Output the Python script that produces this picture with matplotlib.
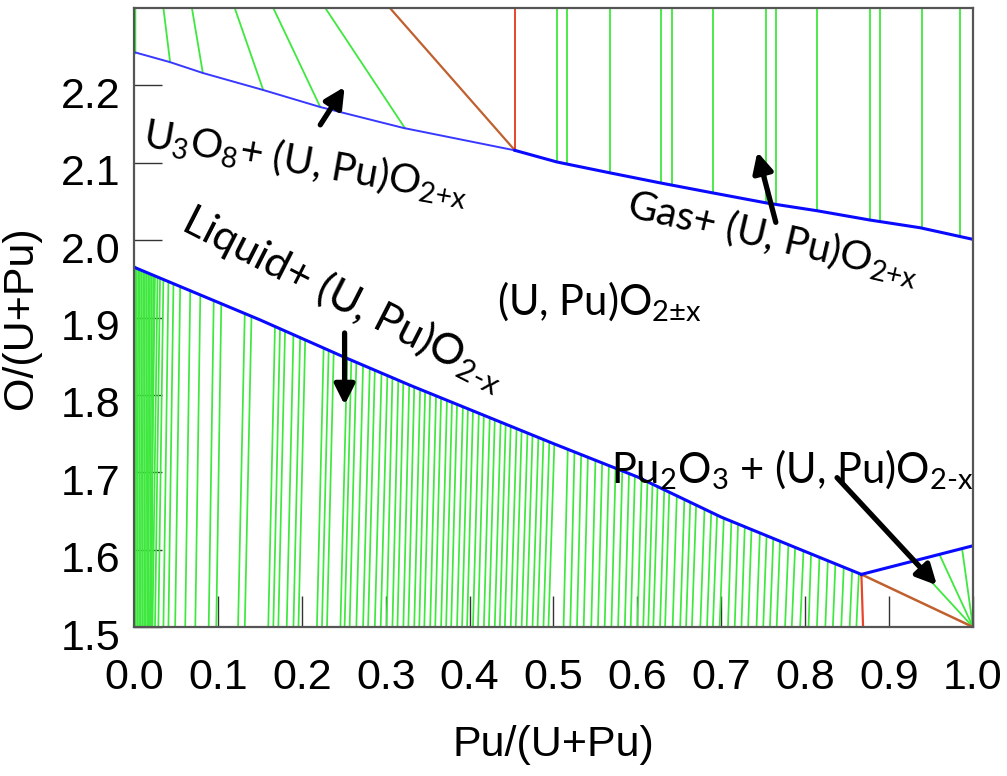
import matplotlib
matplotlib.use("Agg")
import matplotlib.pyplot as plt
import matplotlib.transforms as mtransforms
import numpy as np

plt.rcParams['mathtext.fontset'] = 'custom'
plt.rcParams['mathtext.rm'] = 'Lato'
plt.rcParams['mathtext.it'] = 'Lato:italic'
plt.rcParams['mathtext.bf'] = 'Lato:bold'

# phase boundaries, Pu/(U+Pu) vs O/(U+Pu)
u3o8_x = [0.0, 0.043, 0.082, 0.154, 0.222, 0.321, 0.454]
u3o8_y = [2.243, 2.230, 2.216, 2.194, 2.172, 2.145, 2.116]
gas_x = [0.454, 0.504, 0.567, 0.627, 0.690, 0.754, 0.814, 0.877, 0.937, 1.0]
gas_y = [2.116, 2.101, 2.087, 2.074, 2.061, 2.048, 2.038, 2.026, 2.016, 2.001]
liq_x = [0.0, 0.15, 0.25, 0.33, 0.5, 0.6, 0.7, 0.79, 0.867]
liq_y = [1.965, 1.897, 1.849, 1.812, 1.737, 1.694, 1.642, 1.602, 1.568]
pu2o3_x = [0.867, 1.0]
pu2o3_y = [1.568, 1.605]

# tie lines U3O8 + MOX: end on boundary -> end at top edge
u3o8_tie_bot = [0.0, 0.043, 0.082, 0.154, 0.222, 0.323]
u3o8_tie_top = [0.0, 0.035, 0.069, 0.120, 0.166, 0.228]

# tie lines gas + MOX (vertical)
gas_tie = [0.504, 0.516, 0.567, 0.628, 0.641, 0.690, 0.753, 0.765, 0.814,
           0.877, 0.889, 0.939, 0.984, 1.0]

# tie lines liquid + MOX: boundary end / end at O/M = 1.5
liq_tie_top = [0.001, 0.003, 0.005, 0.007, 0.009, 0.011, 0.013, 0.015, 0.017,
               0.019, 0.021, 0.023,
               0.025, 0.028, 0.031, 0.035, 0.041, 0.047, 0.055, 0.067, 0.079, 0.095, 0.104,
               0.132, 0.140, 0.168, 0.174, 0.180, 0.190, 0.198, 0.204,
               0.226, 0.232, 0.238, 0.254, 0.259, 0.265, 0.273, 0.281, 0.287, 0.295, 0.302,
               0.308, 0.315, 0.321, 0.328, 0.334, 0.341, 0.347, 0.353, 0.360, 0.366,
               0.373, 0.379, 0.385, 0.392, 0.398, 0.404, 0.411, 0.417, 0.424, 0.430,
               0.437, 0.443, 0.449, 0.456, 0.462, 0.469, 0.475, 0.482, 0.488, 0.495, 0.501,
               0.517, 0.525, 0.533, 0.541, 0.550, 0.558, 0.566, 0.574, 0.582, 0.590,
               0.597, 0.605, 0.612, 0.618, 0.624, 0.632, 0.638, 0.647, 0.656, 0.663,
               0.670, 0.680, 0.688, 0.695, 0.703,
               0.712, 0.720, 0.728, 0.736, 0.746, 0.754, 0.762, 0.770, 0.780, 0.788, 0.798,
               0.807, 0.817, 0.827, 0.836, 0.846, 0.856, 0.864]
liq_tie_bot = [0.000, 0.002, 0.004, 0.006, 0.008, 0.010, 0.012, 0.014, 0.016,
               0.017, 0.019, 0.021,
               0.019, 0.022, 0.025, 0.029, 0.035, 0.041, 0.049, 0.061, 0.073, 0.089, 0.098,
               0.124, 0.132, 0.160, 0.166, 0.172, 0.182, 0.190, 0.196,
               0.218, 0.224, 0.230, 0.246, 0.251, 0.257, 0.265, 0.273, 0.279, 0.287, 0.294,
               0.301, 0.308, 0.314, 0.321, 0.327, 0.334, 0.340, 0.346, 0.353, 0.359,
               0.366, 0.372, 0.378, 0.385, 0.391, 0.397, 0.404, 0.410, 0.417, 0.423,
               0.430, 0.436, 0.442, 0.449, 0.455, 0.462, 0.468, 0.475, 0.481, 0.488, 0.494,
               0.512, 0.520, 0.528, 0.536, 0.545, 0.553, 0.561, 0.569, 0.577, 0.585,
               0.592, 0.600, 0.607, 0.613, 0.619, 0.627, 0.633, 0.642, 0.651, 0.658,
               0.665, 0.675, 0.683, 0.690, 0.698,
               0.708, 0.716, 0.724, 0.732, 0.742, 0.750, 0.758, 0.766, 0.776, 0.784, 0.794,
               0.804, 0.814, 0.824, 0.833, 0.843, 0.853, 0.861]

# tie lines Pu2O3 + MOX, fanning from PuO1.5
pu2o3_tie = [0.928, 0.960, 0.987, 1.0]

ymin, ymax = 1.5, 2.3
green = '#3ee83e'
blue = '#0a0aff'
red = '#e8452a'
brown = '#c0602e'

fig = plt.figure(figsize=(10.07, 7.76), dpi=100)
ax = fig.add_axes([0.1331, 0.1920, 0.8331, 0.7977])

# liquid + MOX
ax.plot([0, 0], [ymin, liq_y[0]], color=green, lw=2.5)
for xt, xb in zip(liq_tie_top, liq_tie_bot):
    yt = np.interp(xt, liq_x, liq_y)
    ax.plot([xb, xt], [ymin, yt], color=green, lw=1.25)

# U3O8 + MOX
ax.plot([0, 0], [u3o8_y[0], ymax], color=green, lw=2.5)
for xb, xt in zip(u3o8_tie_bot, u3o8_tie_top):
    yb = np.interp(xb, u3o8_x, u3o8_y)
    ax.plot([xb, xt], [yb, ymax], color=green, lw=1.3)

# gas + MOX
for xg in gas_tie:
    yb = np.interp(xg, gas_x, gas_y)
    ax.plot([xg, xg], [yb, ymax], color=green, lw=1.3)

# Pu2O3 + MOX
for xp in pu2o3_tie:
    yt = np.interp(xp, pu2o3_x, pu2o3_y)
    ax.plot([1.0, xp], [ymin, yt], color=green, lw=1.3)

# three-phase triangles
ax.plot([0.305, u3o8_x[-1]], [ymax, u3o8_y[-1]], color=brown, lw=1.6)
ax.plot([u3o8_x[-1], u3o8_x[-1]], [u3o8_y[-1], ymax], color=red, lw=1.4)
ax.plot([pu2o3_x[0], 0.869], [pu2o3_y[0], ymin], color=red, lw=1.6)
ax.plot([pu2o3_x[0], 1.0], [pu2o3_y[0], ymin], color=brown, lw=1.8)

# boundaries
ax.plot(u3o8_x, u3o8_y, color='#3838ff', lw=1.4)
ax.plot(gas_x, gas_y, color=blue, lw=2.2)
ax.plot(liq_x, liq_y, color=blue, lw=2.2)
ax.plot(pu2o3_x, pu2o3_y, color=blue, lw=2.2)

ax.set_xlim(0, 1.0)
ax.set_ylim(ymin, ymax)
ax.set_xticks(np.arange(0, 1.01, 0.1))
ax.set_yticks(np.arange(1.5, 2.21, 0.1))
ax.set_xticklabels(['%.1f' % v for v in np.arange(0, 1.01, 0.1)])
ax.set_yticklabels(['%.1f' % v for v in np.arange(1.5, 2.21, 0.1)])

tick_font = ['Liberation Sans Narrow', 'Liberation Sans', 'DejaVu Sans']
ax.tick_params(axis='x', direction='in', length=22, width=1.0, color='#333333',
               pad=22, labelsize=31)
ax.tick_params(axis='y', direction='in', length=20, width=1.0, color='#333333',
               pad=10, labelsize=31)
for lab in ax.get_xticklabels() + ax.get_yticklabels():
    lab.set_family(tick_font)
shift = mtransforms.ScaledTranslation(0, -0.07, fig.dpi_scale_trans)
for lab in ax.get_yticklabels():
    lab.set_transform(lab.get_transform() + shift)

for sp in ax.spines.values():
    sp.set_color('#555555')
    sp.set_linewidth(1.6)

ax.set_xlabel('Pu/(U+Pu)', fontsize=31, family=tick_font, labelpad=20)
ax.set_ylabel('O/(U+Pu)', fontsize=31, family=tick_font, labelpad=14)

# phase field labels
lab_kw = dict(family='Lato', color='black', ha='center', va='center')
ax.text(0.205, 2.100, r'U$_3$O$_8$+ (U, Pu)O$_{\mathrm{2{+}x}}$', fontsize=29,
        rotation=-10, **lab_kw)
ax.text(0.762, 2.003, r'Gas+ (U, Pu)O$_{\mathrm{2{+}x}}$', fontsize=29,
        rotation=-13, **lab_kw)
ax.text(0.250, 1.925, r'Liquid+ (U, Pu)O$_{\mathrm{2\text{-}x}}$', fontsize=31,
        rotation=-27, **lab_kw)
ax.text(0.555, 1.920, r'(U, Pu)O$_{\mathrm{2{\pm}x}}$', fontsize=30, **lab_kw)
ax.text(0.784, 1.703, r'Pu$_2$O$_3$ + (U, Pu)O$_{\mathrm{2\text{-}x}}$', fontsize=30,
        **lab_kw)

arrow_kw = dict(arrowstyle='-|>', color='black', lw=3.8, mutation_scale=30,
                shrinkA=0, shrinkB=0)
ax.annotate('', xy=(0.251, 2.198), xytext=(0.222, 2.149), arrowprops=arrow_kw)
ax.annotate('', xy=(0.743, 2.114), xytext=(0.765, 2.023), arrowprops=arrow_kw)
ax.annotate('', xy=(0.251, 1.787), xytext=(0.251, 1.880), arrowprops=arrow_kw)
ax.annotate('', xy=(0.957, 1.554), xytext=(0.838, 1.693), arrowprops=arrow_kw)

fig.savefig('out.png', dpi=100)
